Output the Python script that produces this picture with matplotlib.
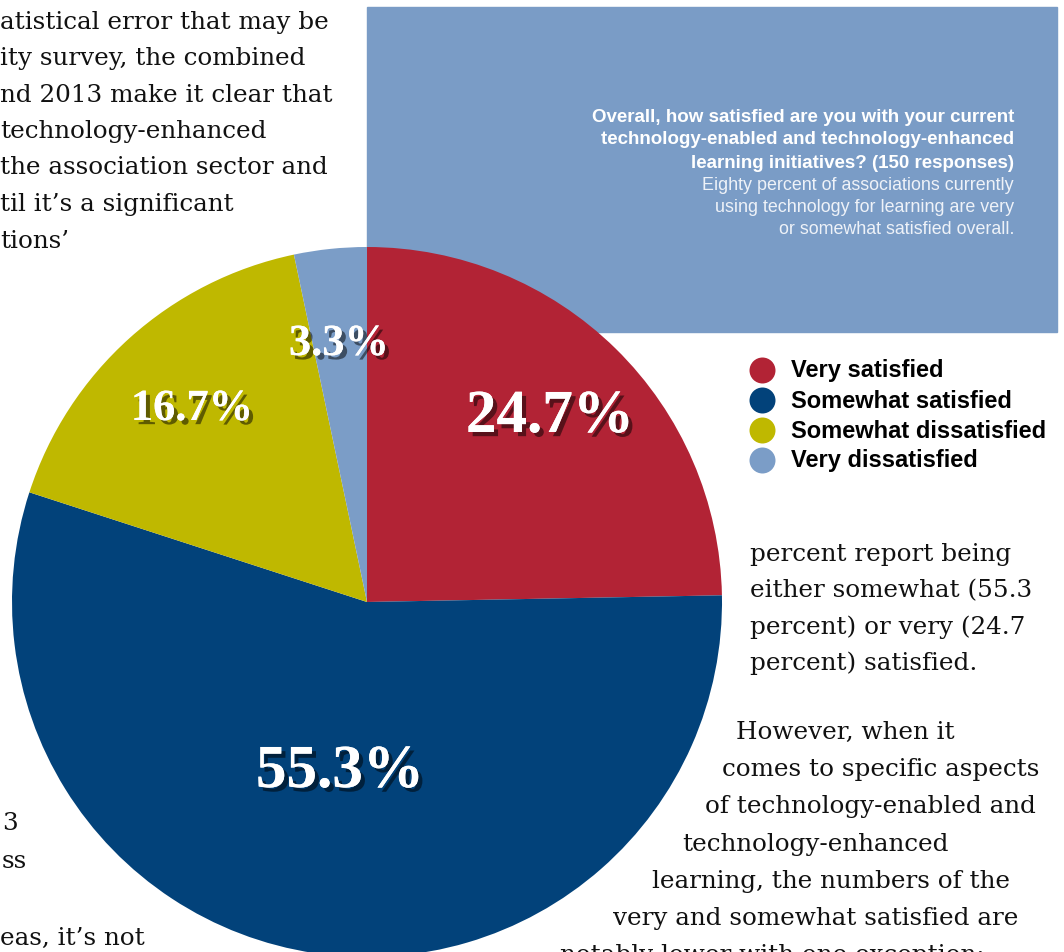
import matplotlib
matplotlib.use("Agg")
import matplotlib.pyplot as plt
from matplotlib import patheffects as pe
from matplotlib.patches import Rectangle

# survey answers, clockwise from 12 o'clock
labels = ["Very satisfied", "Somewhat satisfied", "Somewhat dissatisfied", "Very dissatisfied"]
shares = [24.7, 55.3, 16.7, 3.3]
colors = ["#b22335", "#02427a", "#bfb800", "#7b9dc7"]

question = ["Overall, how satisfied are you with your current",
            "technology-enabled and technology-enhanced",
            "learning initiatives? (150 responses)"]
note = ["Eighty percent of associations currently",
        "using technology for learning are very",
        "or somewhat satisfied overall."]

# running article text around the chart (x, y in px, line)
body_top = ["atistical error that may be", "ity survey, the combined",
            "nd 2013 make it clear that", "technology-enhanced",
            "the association sector and", "til it\u2019s a significant", "tions\u2019"]
body_right = [(750, 555, "percent report being"), (750, 591, "either somewhat (55.3"),
              (750, 627, "percent) or very (24.7"), (750, 663, "percent) satisfied."),
              (736, 732, "However, when it"), (722, 770, "comes to specific aspects"),
              (705, 807, "of technology-enabled and"), (682, 845, "technology-enhanced"),
              (652, 882, "learning, the numbers of the"), (613, 919, "very and somewhat satisfied are"),
              (560, 956, "notably lower with one exception:")]
body_left = [(2, 824, "3"), (2, 862, "ss"), (0, 938, "eas, it\u2019s not")]

W, H = 1064, 953
fig = plt.figure(figsize=(W / 100, H / 100), dpi=100)
ax = fig.add_axes([0, 0, 1, 1])

def Y(y):
    return H - y

serif = ["DejaVu Serif", "Liberation Serif"]
label_serif = ["Liberation Serif", "DejaVu Serif"]
sans = ["Liberation Sans", "DejaVu Sans"]

# blue question box
ax.add_patch(Rectangle((367, Y(333)), 690, 325, color="#7a9cc6", zorder=1))

wedges, _ = ax.pie(shares, colors=colors, startangle=90, counterclock=False,
                   center=(367, Y(603)), radius=355,
                   wedgeprops=dict(linewidth=0), frame=False)
for w in wedges:
    w.set_zorder(2)

ax.set_xlim(0, W)
ax.set_ylim(0, H)
ax.set_aspect("auto")
ax.axis("off")

shadow = [pe.withSimplePatchShadow(offset=(3, -3), shadow_rgbFace="black", alpha=0.5), pe.Normal()]
pct_pos = [(550, 418, 44), (340, 773, 44), (192, 410, 32), (339, 345, 32)]
for v, (x, y, fs) in zip(shares, pct_pos):
    ax.text(x, Y(y), f"{v}%", ha="center", va="center", color="white",
            fontsize=fs, fontweight="bold", family=label_serif, zorder=5, path_effects=shadow)

# legend
for i, (lab, c) in enumerate(zip(labels, colors)):
    yy = Y(371 + 30 * i)
    ax.scatter([762], [yy], s=350, color=c, zorder=5, linewidths=0)
    ax.text(791, yy, lab, ha="left", va="center", fontsize=17, fontweight="bold",
            family=sans, color="black", zorder=5)

for i, line in enumerate(question):
    ax.text(1014, Y(117 + 23 * i), line, ha="right", va="center", fontsize=13.5,
            fontweight="bold", family=sans, color="white", zorder=3)
for i, line in enumerate(note):
    ax.text(1014, Y(186 + 22 * i), line, ha="right", va="center", fontsize=12.9,
            family=sans, color="#eef2f8", zorder=3)

for i, line in enumerate(body_top):
    ax.text(0, Y(22 + 36.5 * i), line, ha="left", va="center", fontsize=17.7,
            family=serif, color="#111111", zorder=3)
for x, y, line in body_right + body_left:
    ax.text(x, Y(y), line, ha="left", va="center", fontsize=17.7,
            family=serif, color="#111111", zorder=3)

fig.savefig("out.png", dpi=100)
